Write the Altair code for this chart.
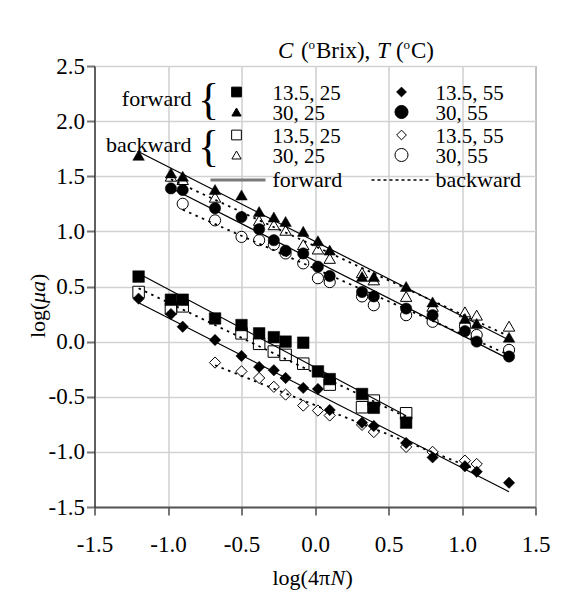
import altair as alt
import pandas as pd

FONT = "Liberation Serif"

# ---- data (log(4*pi*N), log(mu_a)) ----
x_f30_25 = [-1.20, -0.98, -0.90, -0.68, -0.50, -0.38, -0.28, -0.20, -0.08, 0.02, 0.10, 0.32, 0.40, 0.62, 0.80, 1.02, 1.10, 1.32]
y_f30_25 = [1.69, 1.53, 1.50, 1.38, 1.33, 1.18, 1.13, 1.09, 1.00, 0.915, 0.83, 0.59, 0.59, 0.50, 0.36, 0.21, 0.165, 0.04]

x_b30_25 = [-0.98, -0.90, -0.68, -0.38, -0.28, -0.20, -0.08, 0.02, 0.10, 0.32, 0.40, 0.62, 0.80, 1.02, 1.10, 1.32]
y_b30_25 = [1.50, 1.47, 1.31, 1.10, 1.06, 1.01, 0.88, 0.84, 0.755, 0.625, 0.56, 0.41, 0.32, 0.27, 0.24, 0.14]

x_f30_55 = [-0.98, -0.90, -0.68, -0.50, -0.38, -0.28, -0.20, -0.08, 0.02, 0.10, 0.32, 0.40, 0.62, 0.80, 1.02, 1.10, 1.32]
y_f30_55 = [1.39, 1.375, 1.21, 1.13, 1.02, 0.92, 0.825, 0.80, 0.68, 0.595, 0.45, 0.41, 0.30, 0.24, 0.095, 0.0, -0.135]

x_b30_55 = [-0.90, -0.68, -0.50, -0.38, -0.28, -0.20, -0.08, 0.02, 0.10, 0.32, 0.40, 0.62, 0.80, 1.02, 1.10, 1.32]
y_b30_55 = [1.25, 1.10, 0.95, 0.92, 0.88, 0.80, 0.71, 0.575, 0.54, 0.41, 0.33, 0.24, 0.18, 0.14, 0.06, -0.075]

x_f13_25 = [-1.20, -0.98, -0.90, -0.68, -0.50, -0.38, -0.28, -0.20, -0.08, 0.02, 0.10, 0.32, 0.40, 0.62]
y_f13_25 = [0.59, 0.38, 0.38, 0.21, 0.15, 0.075, 0.04, 0.0, -0.01, -0.27, -0.34, -0.475, -0.60, -0.735]

x_b13_25 = [-1.20, -0.98, -0.90, -0.50, -0.38, -0.28, -0.20, -0.08, 0.10, 0.32, 0.40, 0.62]
y_b13_25 = [0.45, 0.30, 0.32, 0.075, -0.02, -0.09, -0.12, -0.20, -0.39, -0.595, -0.535, -0.65]

x_f13_55 = [-1.20, -0.98, -0.90, -0.68, -0.50, -0.38, -0.28, -0.20, -0.08, 0.02, 0.10, 0.32, 0.40, 0.62, 0.80, 1.02, 1.10, 1.32]
y_f13_55 = [0.39, 0.25, 0.135, 0.015, -0.13, -0.23, -0.26, -0.33, -0.42, -0.43, -0.62, -0.735, -0.765, -0.92, -1.05, -1.13, -1.18, -1.28]

x_b13_55 = [-0.68, -0.50, -0.38, -0.28, -0.20, -0.08, 0.02, 0.10, 0.32, 0.40, 0.62, 0.80, 1.02, 1.10]
y_b13_55 = [-0.19, -0.27, -0.33, -0.41, -0.48, -0.58, -0.625, -0.67, -0.755, -0.82, -0.955, -1.00, -1.08, -1.11]

x_ticks = [-1.5, -1.0, -0.5, 0.0, 0.5, 1.0, 1.5]
y_ticks = [-1.5, -1.0, -0.5, 0.0, 0.5, 1.0, 1.5, 2.0, 2.5]

series_names = ["F 13.5,25", "F 30,25", "B 13.5,25", "B 30,25",
                "F 13.5,55", "F 30,55", "B 13.5,55", "B 30,55"]
series_dir = ["forward", "forward", "backward", "backward",
              "forward", "forward", "backward", "backward"]
series_shape = ["square", "triangle-up", "square", "triangle-up",
                "diamond", "circle", "diamond", "circle"]
shape_size = {"square": 135, "triangle-up": 125, "diamond": 140, "circle": 190}

series_data = {
    "F 13.5,25": (x_f13_25, y_f13_25), "F 30,25": (x_f30_25, y_f30_25),
    "B 13.5,25": (x_b13_25, y_b13_25), "B 30,25": (x_b30_25, y_b30_25),
    "F 13.5,55": (x_f13_55, y_f13_55), "F 30,55": (x_f30_55, y_f30_55),
    "B 13.5,55": (x_b13_55, y_b13_55), "B 30,55": (x_b30_55, y_b30_55),
}

rows = []
for name, d in zip(series_names, series_dir):
    xs, ys = series_data[name]
    for xv, yv in zip(xs, ys):
        rows.append({"x": xv, "y": yv, "series": name, "dir": d})
df = pd.DataFrame(rows)

label_expr = "(datum.value < 0 ? '-' : '') + format(abs(datum.value), '.1f')"

X = alt.X("x:Q", scale=alt.Scale(domain=[-1.5, 1.5], nice=False, zero=False),
          axis=alt.Axis(values=x_ticks, labelExpr=label_expr, title="",
                        labelFont=FONT, labelFontSize=23, labelColor="black",
                        labelFlush=False, labelOverlap=False, labelBound=False,
                        domainColor="#555555", domainWidth=2, tickColor="#777777",
                        tickWidth=2, tickSize=8, labelPadding=18,
                        gridColor="#d2d2d2", gridWidth=1.6))
Y = alt.Y("y:Q", scale=alt.Scale(domain=[-1.5, 2.5], nice=False, zero=False),
          axis=alt.Axis(values=y_ticks, labelExpr=label_expr, title="",
                        labelFont=FONT, labelFontSize=23, labelColor="black",
                        labelFlush=False, labelOverlap=False, labelBound=False,
                        domainColor="#000000", domainWidth=1, tickColor="#777777",
                        tickWidth=2, tickSize=8, labelPadding=2,
                        gridColor="#d2d2d2", gridWidth=1.6))

shape_enc = alt.Shape("series:N", scale=alt.Scale(domain=series_names, range=series_shape), legend=None)
size_enc = alt.Size("series:N", scale=alt.Scale(domain=series_names,
                                                range=[shape_size[s] for s in series_shape]), legend=None)

base = alt.Chart(df)

pts_back = base.transform_filter(alt.datum.dir == "backward").mark_point(
    filled=True, fill="white", stroke="black", strokeWidth=1, opacity=1
).encode(x=X, y=Y, shape=shape_enc, size=size_enc)

pts_fwd = base.transform_filter(alt.datum.dir == "forward").mark_point(
    filled=True, fill="black", stroke="black", strokeWidth=0.5, opacity=1
).encode(x=X, y=Y, shape=shape_enc, size=size_enc)

reg_fwd = base.transform_filter(alt.datum.dir == "forward").transform_regression(
    "x", "y", groupby=["series"]
).mark_line(color="black", strokeWidth=1.2).encode(x=X, y=Y, detail="series:N")

reg_back = base.transform_filter(alt.datum.dir == "backward").transform_regression(
    "x", "y", groupby=["series"]
).mark_line(color="black", strokeWidth=1.8, strokeDash=[2.5, 4.5]).encode(x=X, y=Y, detail="series:N")

one = alt.Data(values=[{}])


def txt(s, x, y, size=21, italic=False, align="left", baseline="alphabetic", angle=0):
    return alt.Chart(one).mark_text(
        text=s, font=FONT, fontSize=size, fontStyle="italic" if italic else "normal",
        align=align, baseline=baseline, angle=angle, color="black"
    ).encode(x=alt.value(x), y=alt.value(y))


def sym(shape, filled, x, y, size):
    return alt.Chart(one).mark_point(
        shape=shape, filled=True, fill="black" if filled else "white",
        stroke="black", strokeWidth=1, size=size, opacity=1
    ).encode(x=alt.value(x), y=alt.value(y))


# legend layout (plot-area pixel coordinates)
r1, r2, r3, r4, r5 = 26, 46, 69, 89, 114
c1s, c1t, c2s, c2t = 142, 178, 307, 341
legend = [
    txt("forward", 97, 40, size=22, align="right"),
    txt("backward", 97, 86, size=22, align="right"),
    txt("{", 114, 48, size=44, align="center"),
    txt("{", 114, 95, size=44, align="center"),
    sym("square", True, c1s, r1, 95),
    sym("triangle-up", True, c1s, r2, 85),
    sym("square", False, c1s, r3, 95),
    sym("triangle-up", False, c1s, r4, 85),
    sym("diamond", True, c2s, r1, 95),
    sym("circle", True, c2s, r2, 170),
    sym("diamond", False, c2s, r3, 95),
    sym("circle", False, c2s, r4, 170),
    txt("13.5, 25", c1t, r1 + 8), txt("30, 25", c1t, r2 + 8),
    txt("13.5, 25", c1t, r3 + 8), txt("30, 25", c1t, r4 + 8),
    txt("13.5, 55", c2t, r1 + 8), txt("30, 55", c2t, r2 + 8),
    txt("13.5, 55", c2t, r3 + 8), txt("30, 55", c2t, r4 + 8),
    alt.Chart(one).mark_rule(color="#7a7a7a", strokeWidth=3).encode(
        x=alt.value(116), x2=alt.value(171), y=alt.value(r5)),
    alt.Chart(one).mark_rule(color="black", strokeWidth=1.6, strokeDash=[3, 3]).encode(
        x=alt.value(277), x2=alt.value(336), y=alt.value(r5)),
    txt("forward", c1t, r5 + 7, size=22), txt("backward", c2t, r5 + 7, size=22),
    # title  C (°Brix), T (°C)
    txt("C", 183.5, -8, size=23, italic=True),
    txt("(", 206.5, -8, size=23), txt("o", 214, -17, size=13), txt("Brix),", 221.5, -8, size=23),
    txt("T", 282.5, -8, size=23, italic=True),
    txt("(", 301.5, -8, size=23), txt("o", 309, -17, size=13), txt("C)", 316.5, -8, size=23),
    # x-axis title  log(4πN)
    txt("log(4π", 178, 519, size=22), txt("N", 236, 519, size=22, italic=True), txt(")", 251, 519, size=22),
    # y-axis title  log(μa)
    txt("log(", -50, 272, size=22, angle=270), txt("μa", -50, 237, size=22, italic=True, angle=270),
    txt(")", -50, 215, size=22, angle=270),
]

chart = alt.layer(pts_back, pts_fwd, reg_back, reg_fwd, *legend).properties(
    width=441, height=441,
    autosize=alt.AutoSizeParams(type="none"),
    padding={"left": 86.5, "top": 58, "right": 22, "bottom": 95},
).configure_view(stroke="black", strokeWidth=1)

chart.save("out.html", embed_options={"renderer": "svg", "actions": False})
